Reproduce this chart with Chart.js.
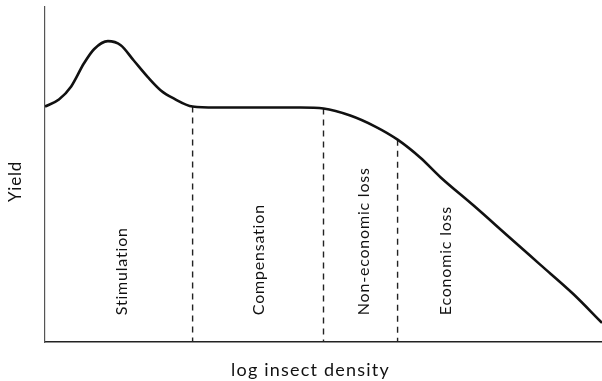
<!DOCTYPE html>
<html>
<head>
<meta charset="utf-8">
<script src="https://cdn.jsdelivr.net/npm/chart.js@4.4.0/dist/chart.umd.min.js"></script>
<style>
  html, body { margin: 0; padding: 0; background: #fff; }
  #wrap { width: 602px; height: 381px; position: relative; }
</style>
</head>
<body>
<div id="wrap"><canvas id="yieldChart"></canvas></div>
<script>
// yield response to insect density (log scale, arbitrary units)
const density = [0, 0.25, 0.47, 0.70, 0.88, 1.13, 1.36, 1.59, 1.85, 2.08, 2.31, 2.65,
  3.06, 3.87, 4.59, 5.00, 5.48, 5.93, 6.33, 6.74, 7.10, 7.69, 8.30, 8.89, 9.48, 10];
const yieldValues = [7.03, 7.24, 7.63, 8.32, 8.74, 8.98, 8.86, 8.41, 7.90, 7.51, 7.27, 7.03,
  7.00, 7.00, 7.00, 6.97, 6.76, 6.43, 6.04, 5.50, 4.92, 4.08, 3.18, 2.31, 1.44, 0.57];

// boundaries between the response zones
const boundaries = [2.65, 5.00, 6.33];
const zoneNames = ['Stimulation', 'Compensation', 'Non-economic loss', 'Economic loss'];
const zoneCentres = [1.38, 3.84, 5.72, 7.19];

const xTitle = 'log insect density';
const yTitle = 'Yield';

const curve = density.map((d, i) => ({ x: d, y: yieldValues[i] }));

const dividerSets = boundaries.map(b => ({
  type: 'line',
  data: [{ x: b, y: yieldValues[density.indexOf(b)] }, { x: b, y: 0 }],
  borderColor: '#222',
  borderWidth: 1.4,
  borderDash: [6, 5],
  pointRadius: 0,
  tension: 0
}));

const textFont = '"Lato", "Open Sans", sans-serif';

// zone names and axis titles
const labelPlugin = {
  id: 'zoneLabels',
  afterDatasetsDraw(chart) {
    const { ctx, chartArea, scales } = chart;
    ctx.save();
    ctx.fillStyle = '#111';
    ctx.font = '16px ' + textFont;
    ctx.letterSpacing = '0.8px';
    ctx.textBaseline = 'middle';
    ctx.textAlign = 'left';
    zoneNames.forEach((name, i) => {
      const px = scales.x.getPixelForValue(zoneCentres[i]);
      const py = scales.y.getPixelForValue(0.8);
      ctx.save();
      ctx.translate(px, py);
      ctx.rotate(-Math.PI / 2);
      ctx.fillText(name, 0, 0);
      ctx.restore();
    });

    ctx.font = '18px ' + textFont;
    ctx.letterSpacing = '1.2px';
    ctx.textAlign = 'center';
    ctx.fillText(xTitle, (chartArea.left + chartArea.right) / 2 - 13, chartArea.bottom + 28);

    ctx.font = '17px ' + textFont;
    ctx.letterSpacing = '0.8px';
    ctx.save();
    ctx.translate(16, (chartArea.top + chartArea.bottom) / 2 + 7);
    ctx.rotate(-Math.PI / 2);
    ctx.fillText(yTitle, 0, 0);
    ctx.restore();
    ctx.restore();
  }
};

new Chart(document.getElementById('yieldChart'), {
  type: 'line',
  data: {
    datasets: [{
      label: 'Yield',
      data: curve,
      borderColor: '#111',
      borderWidth: 2.6,
      pointRadius: 0,
      cubicInterpolationMode: 'monotone'
    }, ...dividerSets]
  },
  options: {
    responsive: true,
    maintainAspectRatio: false,
    animation: false,
    layout: { padding: { left: 37, top: 7, right: 0, bottom: 31 } },
    plugins: {
      legend: { display: false },
      tooltip: { enabled: false }
    },
    scales: {
      x: {
        type: 'linear',
        min: 0,
        max: 10,
        grid: { display: false },
        ticks: { display: false },
        border: { display: true, color: '#222', width: 1.6 }
      },
      y: {
        min: 0,
        max: 10,
        grid: { display: false },
        ticks: { display: false },
        border: { display: true, color: '#555', width: 1.2 }
      }
    }
  },
  plugins: [labelPlugin]
});
</script>
</body>
</html>
